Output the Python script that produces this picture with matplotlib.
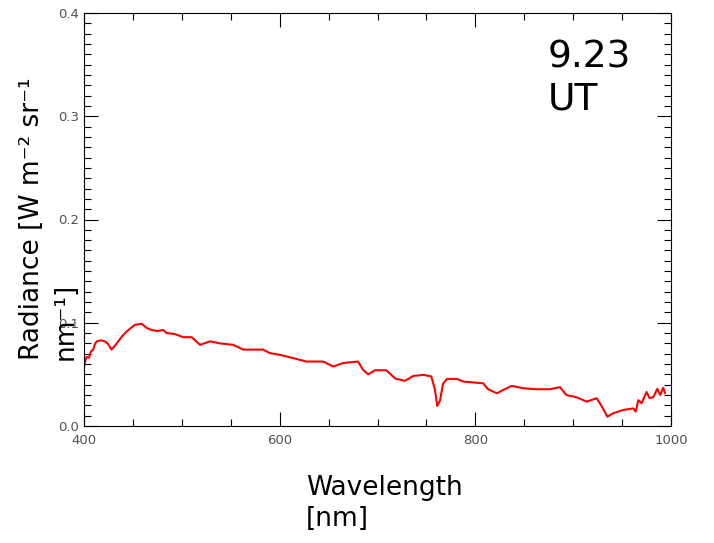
import numpy as np
import matplotlib
matplotlib.use("Agg")
import matplotlib.pyplot as plt
from matplotlib.ticker import MultipleLocator

# Spectrum (wavelength in nm, radiance)
wavelength = [400, 401, 402.7, 405, 407, 409.5, 411, 413, 417, 421.5, 425, 428, 431, 435,
              439, 443.6, 448, 452, 459, 464, 469, 475, 481, 484.5, 493, 501.5, 510,
              518.6, 528.8, 539, 552.6, 562.8, 583, 590, 600, 614, 627.5, 644.6, 654.8,
              665, 680, 685.6, 690.5, 697.5, 709, 718, 728, 736.6, 747, 755, 758.8, 761,
              764, 767, 771, 781, 787.7, 808, 813, 822, 828.7, 837, 849, 862.6, 876,
              886.5, 893, 903.6, 913.8, 924, 929, 935, 941, 951, 961.5, 964, 966.6, 970,
              975, 978, 982, 986, 989, 992, 994]
radiance = [0.057, 0.062, 0.067, 0.066, 0.072, 0.074, 0.079, 0.082, 0.083, 0.082, 0.079,
            0.074, 0.077, 0.082, 0.087, 0.0916, 0.095, 0.098, 0.099, 0.095, 0.093, 0.092,
            0.093, 0.090, 0.089, 0.086, 0.086, 0.0786, 0.082, 0.080, 0.0786, 0.074,
            0.074, 0.0706, 0.069, 0.0657, 0.0624, 0.0624, 0.0576, 0.061, 0.0624, 0.054,
            0.050, 0.054, 0.054, 0.046, 0.0437, 0.0485, 0.0495, 0.048, 0.035, 0.0194,
            0.025, 0.041, 0.0456, 0.0456, 0.043, 0.0414, 0.0356, 0.0317, 0.035, 0.0388,
            0.0366, 0.0356, 0.0356, 0.0376, 0.030, 0.0278, 0.0236, 0.0269, 0.0194,
            0.009, 0.0123, 0.0155, 0.017, 0.014, 0.025, 0.022, 0.033, 0.027, 0.028,
            0.036, 0.030, 0.037, 0.032]

time_label = "9.23\nUT"
x_ticks = [400, 600, 800, 1000]
y_ticks = [0.0, 0.1, 0.2, 0.3, 0.4]

fig = plt.figure(figsize=(7.14, 5.43), dpi=100)
ax = fig.add_axes([84 / 714, 1 - 426 / 543, (671 - 84) / 714, (426 - 13) / 543])

ax.plot(wavelength, radiance, color="red", linewidth=1.5)

ax.set_xlim(400, 1000)
ax.set_ylim(0.0, 0.4)
ax.set_xticks(x_ticks)
ax.set_yticks(y_ticks)
ax.set_yticklabels([f"{v:.1f}" for v in y_ticks])
ax.xaxis.set_minor_locator(MultipleLocator(50))
ax.yaxis.set_minor_locator(MultipleLocator(0.01))
ax.tick_params(which="both", direction="in", top=True, right=True,
               labelsize=9.5, labelcolor="#505050", width=0.8)
ax.tick_params(which="major", length=10)
ax.tick_params(which="minor", length=5)
ax.tick_params(axis="x", pad=6)
for s in ax.spines.values():
    s.set_linewidth(0.8)

ax.text(0.79, 0.935, time_label, transform=ax.transAxes, fontsize=27,
        ha="left", va="top", linespacing=1.2)

fig.text(306 / 714, 1 - 475 / 543, "Wavelength\n[nm]", fontsize=19,
         ha="left", va="top", multialignment="left", linespacing=1.25)

# y label wraps onto two lines, both starting at the same height
fig.text(19 / 714, 1 - 360 / 543, "Radiance [W m\u207b\u00b2 sr\u207b\u00b9",
         fontsize=19, rotation=90, ha="left", va="top", rotation_mode="anchor")
fig.text(53 / 714, 1 - 360 / 543, "nm\u207b\u00b9]",
         fontsize=19, rotation=90, ha="left", va="top", rotation_mode="anchor")

fig.savefig("out.png", dpi=100)
